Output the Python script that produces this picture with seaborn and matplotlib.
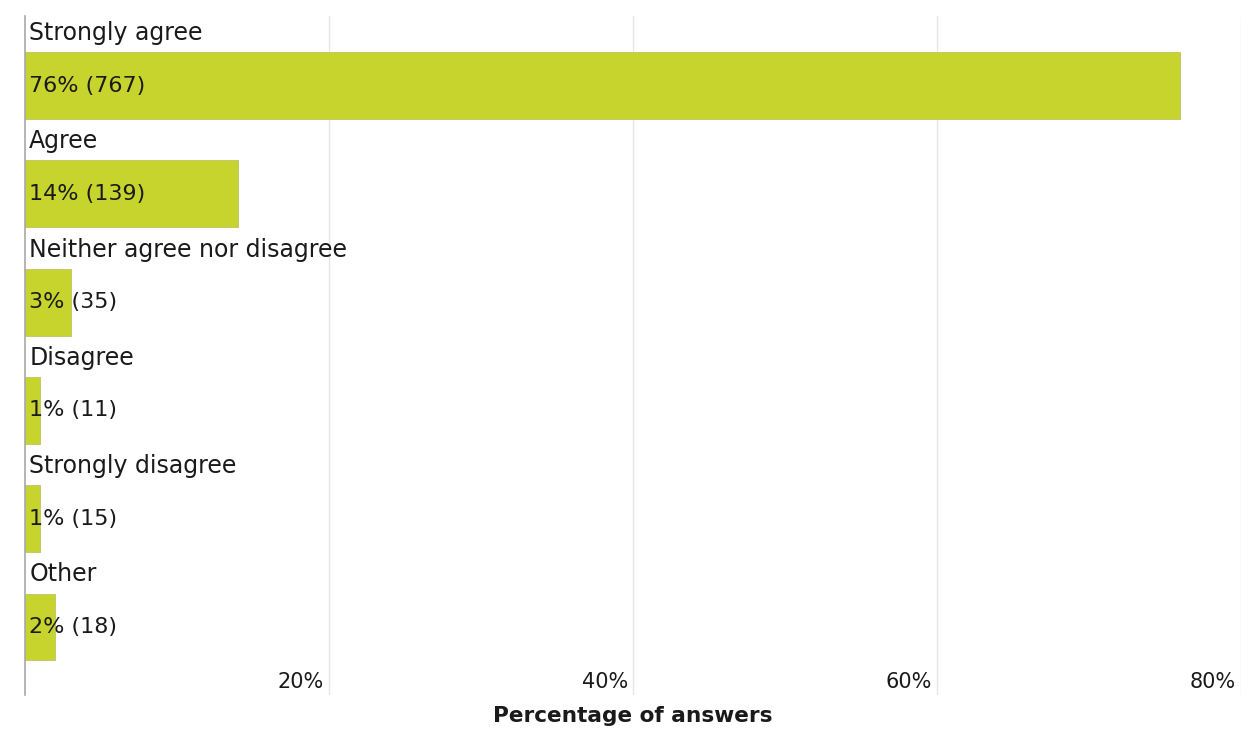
import matplotlib
matplotlib.use("Agg")
import matplotlib.pyplot as plt
from matplotlib.transforms import ScaledTranslation
import pandas as pd
import seaborn as sns

# Survey answers
categories = ["Strongly agree", "Agree", "Neither agree nor disagree",
              "Disagree", "Strongly disagree", "Other"]
percents = [76, 14, 3, 1, 1, 2]
counts = [767, 139, 35, 11, 15, 18]
tick_values = [20, 40, 60, 80]
tick_labels = ["20%", "40%", "60%", "80%"]

df = pd.DataFrame({"category": categories, "percent": percents, "count": counts})

sns.set_theme(style="white")
plt.rcParams["font.family"] = ["DejaVu Sans"]

BAR = "#c7d42e"
TEXT = "#1a1a1a"

fig = plt.figure(figsize=(12.41, 7.30), dpi=100)
W, H = 1241, 730
ax = fig.add_axes([25 / W, 35 / H, (W - 25) / W, (695 - 16) / H])

sns.barplot(data=df, x="percent", y="category", orient="h", color=BAR,
            width=0.618, errorbar=None, saturation=1,
            edgecolor="#bcc266", linewidth=0.6, ax=ax)

ax.set_xlim(0, 80)
ax.set_ylim(5.628, -0.642)

# category names above each bar, value labels inside it
for i, (cat, p, c) in enumerate(zip(categories, percents, counts)):
    ax.annotate(cat, xy=(0, i - 0.485), xytext=(3, 0), textcoords="offset points",
                ha="left", va="center", fontsize=17, color=TEXT)
    ax.annotate(f"{p}% ({c})", xy=(0, i), xytext=(3, 0), textcoords="offset points",
                ha="left", va="center", fontsize=16, color=TEXT)

ax.set_yticks([])
ax.set_ylabel("")

ax.set_xticks(tick_values)
ax.set_xticklabels(tick_labels)
ax.tick_params(axis="x", length=0, pad=-9.4, labelsize=15, labelcolor=TEXT)
shift = ScaledTranslation(-5 / 100, 0, fig.dpi_scale_trans)
for lab in ax.get_xticklabels():
    lab.set_ha("right")
    lab.set_va("center")
    lab.set_transform(lab.get_transform() + shift)

ax.xaxis.grid(True, color="#e6e6e6", linewidth=1)
ax.set_axisbelow(True)
for side in ["top", "right", "bottom"]:
    ax.spines[side].set_visible(False)
ax.spines["left"].set_color("#a8a8a8")
ax.spines["left"].set_linewidth(1.2)

ax.set_xlabel("Percentage of answers", fontsize=15.6, fontweight="bold",
              color=TEXT, labelpad=8)

fig.savefig("out.png", dpi=100, facecolor="white")
